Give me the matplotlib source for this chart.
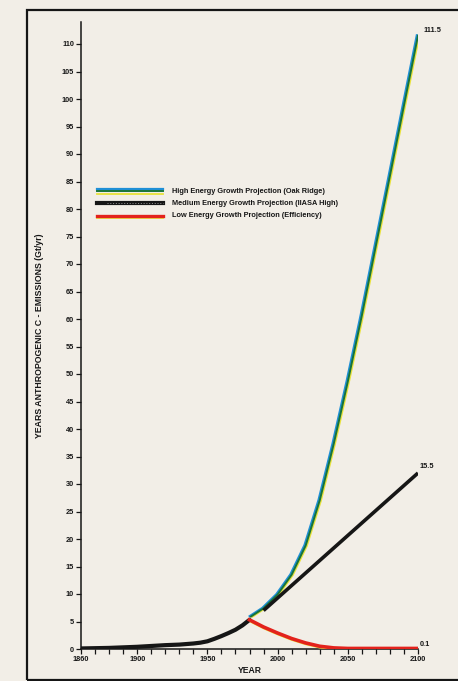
import matplotlib
matplotlib.use("Agg")
import matplotlib.pyplot as plt
from matplotlib.patches import Rectangle
import matplotlib.transforms as mtransforms

# --- data -------------------------------------------------------------
hist_years = [1860, 1880, 1900, 1920, 1930, 1940, 1945, 1950, 1955, 1960, 1965, 1970, 1975, 1980]
hist_vals = [0.1, 0.2, 0.4, 0.7, 0.8, 1.0, 1.15, 1.4, 1.85, 2.35, 2.9, 3.5, 4.3, 5.3]

high_years = [1981, 1990, 2000, 2010, 2020, 2030, 2040, 2050, 2060, 2070, 2080, 2090, 2100]
high_vals = [5.9, 7.4, 9.9, 13.5, 18.8, 27.0, 37.3, 48.6, 60.6, 73.3, 86.0, 98.8, 111.5]

med_years = [1990, 2100]
med_vals = [7.0, 32.0]

low_years = [1980, 1990, 2000, 2010, 2020, 2030, 2040, 2050, 2075, 2100]
low_vals = [5.3, 4.0, 2.9, 1.9, 1.1, 0.5, 0.2, 0.1, 0.1, 0.1]

series_names = [
    "High Energy Growth Projection (Oak Ridge)",
    "Medium Energy Growth Projection (IIASA High)",
    "Low Energy Growth Projection (Efficiency)",
]
end_labels = ["111.5", "15.5", "0.1"]

x_ticks = list(range(1860, 2101, 10))
x_labeled = [1860, 1900, 1950, 2000, 2050, 2100]
y_ticks = list(range(0, 111, 5))

# --- style ------------------------------------------------------------
paper = "#f2eee7"
ink = "#161616"
blue = "#1f8fd6"
green = "#17733a"
yellow = "#e9e23a"
red = "#e3221c"

plt.rcParams["font.family"] = ["Liberation Sans", "DejaVu Sans"]

W, H = 458, 681
fig = plt.figure(figsize=(W / 100, H / 100), dpi=100, facecolor=paper)

x0, x1 = 81, 418
y0, y1 = 649, 22
ax = fig.add_axes([x0 / W, 1 - y0 / H, (x1 - x0) / W, (y0 - y1) / H])
ax.set_facecolor(paper)
ax.set_xlim(1860, 2100)
ax.set_ylim(0, 114)

for s in ("top", "right"):
    ax.spines[s].set_visible(False)
for s in ("left", "bottom"):
    ax.spines[s].set_linewidth(1.1)
    ax.spines[s].set_color(ink)

ax.set_xticks(x_ticks)
ax.set_xticklabels([str(t) if t in x_labeled else "" for t in x_ticks])
ax.set_yticks(y_ticks)
ax.set_yticklabels([str(t) for t in y_ticks])
ax.tick_params(axis="both", direction="out", length=3.5, width=0.9, color=ink,
               labelsize=5.3, pad=1.5, labelcolor=ink)
for lab in ax.get_xticklabels() + ax.get_yticklabels():
    lab.set_fontweight("bold")

ax.set_xlabel("YEAR", fontsize=6.2, fontweight="bold", color=ink, labelpad=2.5)
ax.set_ylabel("YEARS ANTHROPOGENIC C - EMISSIONS (Gt/yr)", fontsize=6.3,
              fontweight="bold", color=ink, labelpad=13)


def shifted(dx, dy):
    return mtransforms.offset_copy(ax.transData, fig=fig, x=dx, y=dy, units="dots")


# historical emissions
ax.plot(hist_years, hist_vals, color=ink, lw=3.0, solid_capstyle="round", zorder=4)

# high growth: blue / green / yellow striped line
ax.plot(high_years, high_vals, color=blue, lw=1.6, transform=shifted(-1.2, 0.4), zorder=3)
ax.plot(high_years, high_vals, color=yellow, lw=1.2, transform=shifted(1.3, -0.4), zorder=3)
ax.plot(high_years, high_vals, color=green, lw=1.4, zorder=4)

# medium growth
ax.plot(med_years, med_vals, color=ink, lw=2.6, solid_capstyle="butt", zorder=4)

# low growth: red with yellow lower edge
ax.plot(low_years, low_vals, color=yellow, lw=1.4, transform=shifted(0, -1.3), zorder=3)
ax.plot(low_years, low_vals, color=red, lw=2.6, zorder=4)

# end-of-series values
ends = [(high_years[-1], high_vals[-1]), (med_years[-1], med_vals[-1]), (low_years[-1], low_vals[-1])]
offs = [(4, 1), (1, 2), (1, 0.5)]
for (ex, ey), txt, off in zip(ends, end_labels, offs):
    ax.annotate(txt, (ex, ey), xytext=off, textcoords="offset points", fontsize=5.3,
                fontweight="bold", color=ink, ha="left", va="bottom", annotation_clip=False)

# legend
lx0, lx1, tx = 0.0475, 0.243, 0.27
rows = [0.730, 0.711, 0.691]
T = ax.transAxes
ax.plot([lx0, lx1], [rows[0] + 0.004, rows[0] + 0.004], color=blue, lw=1.6, transform=T)
ax.plot([lx0, lx1], [rows[0], rows[0]], color=green, lw=1.4, transform=T)
ax.plot([lx0, lx1], [rows[0] - 0.004, rows[0] - 0.004], color=yellow, lw=1.3, transform=T)
ax.plot([lx0, lx1], [rows[1], rows[1]], color=ink, lw=3.0, transform=T)
ax.plot([lx0 + 0.03, lx1], [rows[1], rows[1]], color="#bbbbbb", lw=0.5,
        ls=(0, (1.5, 2.5)), transform=T)
ax.plot([lx0, lx1], [rows[2] - 0.004, rows[2] - 0.004], color=yellow, lw=1.3, transform=T)
ax.plot([lx0, lx1], [rows[2], rows[2]], color=red, lw=2.4, transform=T)
for name, ry in zip(series_names, rows):
    ax.text(tx, ry, name, transform=T, fontsize=5.35, fontweight="bold", color=ink,
            va="center", ha="left")

# page frame
fig.add_artist(Rectangle((27 / W, 1 - 680 / H), (W + 10 - 27) / W, (680 - 10) / H,
                         transform=fig.transFigure, fill=False, edgecolor=ink,
                         lw=1.6, clip_on=False))

fig.savefig("out.png", dpi=100, facecolor=paper)
